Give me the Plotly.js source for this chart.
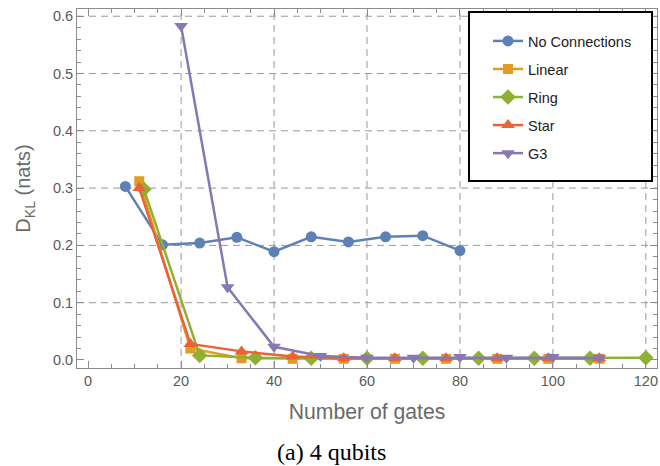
<!DOCTYPE html>
<html>
<head>
<meta charset="utf-8">
<script src="https://cdn.plot.ly/plotly-3.0.1.min.js"></script>
<style>
  html, body { margin: 0; padding: 0; background: #fff; }
  #chart { width: 660px; height: 466px; }
</style>
</head>
<body>
<div id="chart"></div>
<script>
// ---- data ----
const seriesNames = ["No Connections", "Linear", "Ring", "Star", "G3"];

const noConnX = [8, 16, 24, 32, 40, 48, 56, 64, 72, 80];
const noConnY = [0.303, 0.201, 0.204, 0.214, 0.189, 0.215, 0.206, 0.215, 0.217, 0.191];

const linearX = [11, 22, 33, 44, 55, 66, 77, 88, 99, 110];
const linearY = [0.312, 0.020, 0.003, 0.002, 0.002, 0.002, 0.002, 0.002, 0.002, 0.002];

const ringX = [12, 24, 36, 48, 60, 72, 84, 96, 108, 120];
const ringY = [0.298, 0.008, 0.004, 0.003, 0.003, 0.003, 0.003, 0.003, 0.003, 0.004];

const starX = [11, 22, 33, 44, 55, 66, 77, 88, 99, 110];
const starY = [0.300, 0.028, 0.015, 0.006, 0.003, 0.003, 0.003, 0.003, 0.003, 0.003];

const g3X = [20, 30, 40, 50, 60, 70, 80, 90, 100, 110];
const g3Y = [0.583, 0.127, 0.023, 0.007, 0.004, 0.004, 0.005, 0.004, 0.005, 0.004];

const xTickVals = [0, 20, 40, 60, 80, 100, 120];
const yTickVals = [0.0, 0.1, 0.2, 0.3, 0.4, 0.5, 0.6];
const xGridVals = [20, 40, 60, 80, 100, 120];
const yGridVals = [0.1, 0.2, 0.3, 0.4, 0.5, 0.6];

const xTitle = "Number of gates";
const yTitle = "D<sub>KL</sub> (nats)";
const caption = "(a) 4 qubits";

// ---- styles ----
const colors = ["#5E81B5", "#E19C24", "#8FB032", "#EB6235", "#8778B3"];
const symbols = ["circle", "square", "diamond", "triangle-up", "triangle-down"];
const sizes = [11, 10, 12, 12, 12];
const xs = [noConnX, linearX, ringX, starX, g3X];
const ys = [noConnY, linearY, ringY, starY, g3Y];

const traces = seriesNames.map((name, i) => ({
  type: "scatter",
  mode: "lines+markers",
  name: name,
  x: xs[i],
  y: ys[i],
  legendgroup: "g" + i,
  line: { color: colors[i], width: 2.5 },
  marker: { color: colors[i], symbol: symbols[i], size: sizes[i], line: { width: 0 } },
  cliponaxis: false
}));

const gridStyle = { color: "#9a9a9a", width: 1, dash: "7px,5px" };
const shapes = [];
xGridVals.forEach(v => shapes.push({
  type: "line", layer: "below", xref: "x", yref: "paper",
  x0: v, x1: v, y0: 0, y1: 1, line: gridStyle
}));
yGridVals.forEach(v => shapes.push({
  type: "line", layer: "below", xref: "paper", yref: "y",
  x0: 0, x1: 1, y0: v, y1: v, line: gridStyle
}));
// legend frame
shapes.push({
  type: "rect", layer: "above", xref: "paper", yref: "paper",
  x0: (469 - 77) / 580, x1: (652 - 77) / 580,
  y0: (368 - 181) / 359, y1: (368 - 12) / 359,
  fillcolor: "rgba(255,255,255,1)", line: { color: "#000", width: 2 }
});

const axisCommon = {
  showline: true, linecolor: "#8c8c8c", linewidth: 1, mirror: "allticks",
  ticks: "inside", ticklen: 7, tickwidth: 1, tickcolor: "#8c8c8c",
  showgrid: false, zeroline: false,
  tickfont: { family: "Liberation Sans, Arial, sans-serif", size: 14.5, color: "#5a5a5a" }
};

const layout = {
  width: 660, height: 466,
  margin: { l: 77, r: 3, t: 9, b: 98 },
  paper_bgcolor: "#fff", plot_bgcolor: "#fff",
  showlegend: true,
  xaxis: Object.assign({}, axisCommon, {
    range: [-2.4, 122.4],
    tickmode: "array", tickvals: xTickVals,
    minor: { dtick: 5, tick0: 0, ticks: "inside", ticklen: 4, tickcolor: "#8c8c8c", showgrid: false },
    title: { text: xTitle, standoff: 15, font: { family: "Liberation Sans, Arial, sans-serif", size: 21.2, color: "#6a6a6a" } }
  }),
  yaxis: Object.assign({}, axisCommon, {
    range: [-0.0140, 0.6126],
    tickmode: "array", tickvals: yTickVals, tickformat: ".1f",
    minor: { dtick: 0.02, tick0: 0, ticks: "inside", ticklen: 4, tickcolor: "#8c8c8c", showgrid: false },
    title: { text: yTitle, standoff: 16, font: { family: "Liberation Sans, Arial, sans-serif", size: 20, color: "#6a6a6a" } }
  }),
  legend: {
    x: (488 - 77) / 580, y: (368 - 25) / 359, xanchor: "left", yanchor: "top",
    bgcolor: "rgba(0,0,0,0)", borderwidth: 0,
    tracegroupgap: 6.2,
    font: { family: "Liberation Sans, Arial, sans-serif", size: 14.5, color: "#222" }
  },
  shapes: shapes,
  annotations: [{
    text: caption, xref: "paper", yref: "paper",
    x: (331 - 77) / 580, y: (368 - 452) / 359, xanchor: "center", yanchor: "middle",
    showarrow: false,
    font: { family: "Liberation Serif, Times New Roman, serif", size: 24, color: "#000" }
  }]
};

Plotly.newPlot("chart", traces, layout, { displayModeBar: false, staticPlot: true });
</script>
</body>
</html>
